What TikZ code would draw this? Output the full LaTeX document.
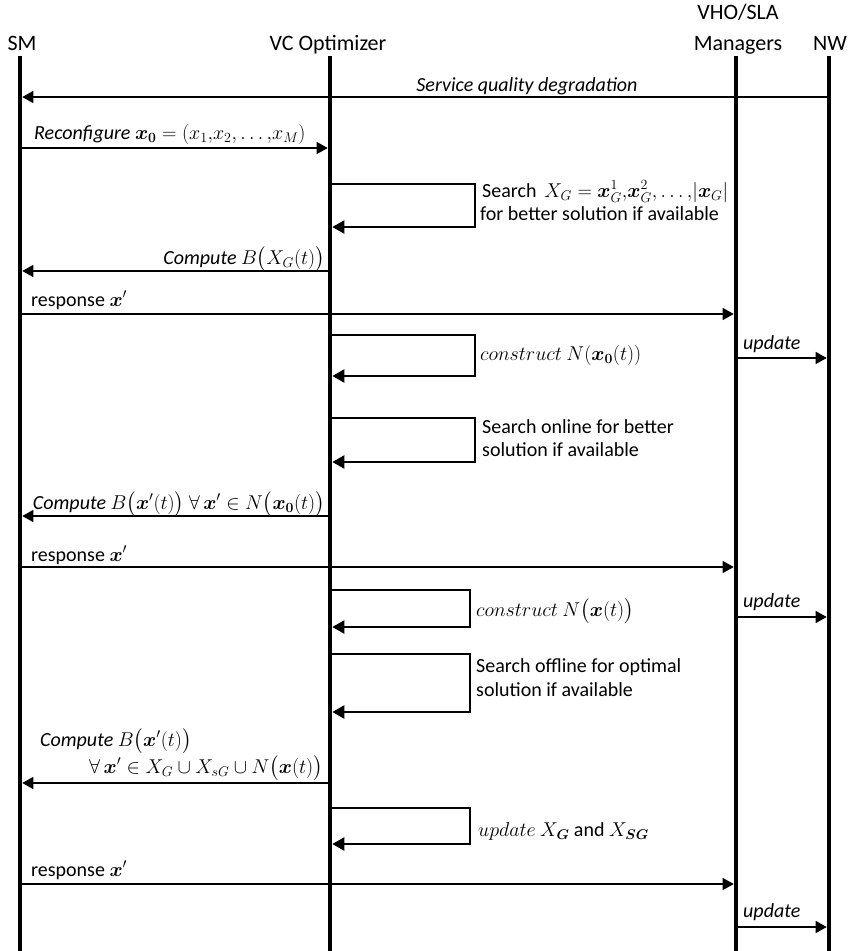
\RequirePackage{fix-cm}
\documentclass[tikz,border=0pt]{standalone}
\usepackage{amsmath}
\usepackage{bm}
\usepackage{fontspec}
\setmainfont{Carlito}
\usetikzlibrary{arrows.meta}

% one horizontal row of anchor points, one on each lifeline
\newcommand\seqrow[2]{%
  \coordinate (#1-sm) at (20,#2);
  \coordinate (#1-vc) at (330,#2);
  \coordinate (#1-vh) at (736,#2);
  \coordinate (#1-nw) at (829,#2);}

\tikzset{
  lifeline/.style={line width=4.6pt},
  msg/.style={line width=1.3pt, -{Triangle[length=11pt,width=12pt]}, shorten >=2.3pt},
  selfmsg/.style={line width=2.2pt, -{Triangle[length=12pt,width=13pt]}, shorten >=2.3pt},
  head/.style={font=\fontsize{22}{26}\selectfont, inner sep=0pt},
  lbl/.style={font=\fontsize{20}{24}\selectfont, inner sep=0pt},
}

\begin{document}
\begin{tikzpicture}[x=1pt,y=-1pt]
\useasboundingbox (0,0) rectangle (847,951);

% participants
\node[head, anchor=base] (sm) at (22,50) {SM};
\node[head, anchor=base] (vc) at (328,50) {VC Optimizer};
\node[head, anchor=base] (vhtop) at (738,19) {VHO/SLA};
\node[head, anchor=base] (vh) at (738,50) {Managers};
\node[head, anchor=base] (nw) at (830,50) {NW};

\seqrow{top}{56}
\seqrow{bot}{951}

% message rows
\seqrow{r1}{97}
\seqrow{r2}{148}
\seqrow{r3a}{184}
\seqrow{r3b}{227}
\seqrow{r4}{271}
\seqrow{r5}{314}
\seqrow{r6a}{335}
\seqrow{r6b}{376}
\seqrow{r7}{358}
\seqrow{r8a}{418}
\seqrow{r8b}{462}
\seqrow{r9}{516}
\seqrow{r10}{567}
\seqrow{r11a}{590}
\seqrow{r11b}{627}
\seqrow{r12}{617}
\seqrow{r13a}{654}
\seqrow{r13b}{712}
\seqrow{r14}{783}
\seqrow{r15a}{808}
\seqrow{r15b}{844}
\seqrow{r16}{884}
\seqrow{r17}{927}

% right corners of the self messages
\coordinate (r3c) at (475,184);
\coordinate (r6c) at (475,335);
\coordinate (r8c) at (475,418);
\coordinate (r11c) at (470,590);
\coordinate (r13c) at (470,654);
\coordinate (r15c) at (470,808);

% messages
\draw[msg] (r1-nw) -- (r1-sm);
\draw[msg] (r2-sm) -- (r2-vc);
\draw[selfmsg] (r3a-vc) -- (r3c) |- (r3b-vc);
\draw[msg] (r4-vc) -- (r4-sm);
\draw[msg] (r5-sm) -- (r5-vh);
\draw[selfmsg] (r6a-vc) -- (r6c) |- (r6b-vc);
\draw[msg] (r7-vh) -- (r7-nw);
\draw[selfmsg] (r8a-vc) -- (r8c) |- (r8b-vc);
\draw[msg] (r9-vc) -- (r9-sm);
\draw[msg] (r10-sm) -- (r10-vh);
\draw[selfmsg] (r11a-vc) -- (r11c) |- (r11b-vc);
\draw[msg] (r12-vh) -- (r12-nw);
\draw[selfmsg] (r13a-vc) -- (r13c) |- (r13b-vc);
\draw[msg] (r14-vc) -- (r14-sm);
\draw[selfmsg] (r15a-vc) -- (r15c) |- (r15b-vc);
\draw[msg] (r16-sm) -- (r16-vh);
\draw[msg] (r17-vh) -- (r17-nw);

% lifelines
\draw[lifeline] (top-sm) -- (bot-sm);
\draw[lifeline] (top-vc) -- (bot-vc);
\draw[lifeline] (top-vh) -- (bot-vh);
\draw[lifeline] (top-nw) -- (bot-nw);

% labels
\node[lbl, anchor=base] (l1) at (527,91) {\itshape Service quality degradation};
\node[lbl, anchor=base west] (l2) at (34,139) {\textit{Reconfigure} $\bm{x}_{\bm{0}} = (x_1{,}x_2{,}\ldots{,}x_M)$};
\node[lbl, anchor=base west] (l3a) at (482,197) {Search\ \,$X_G = \bm{x}_G^1{,}\bm{x}_G^2{,}\ldots{,}|\bm{x}_G|$};
\node[lbl, anchor=base west] (l3b) at (480,220) {for better solution if available};
\node[lbl, anchor=base east] (l4) at (325,264) {\textit{Compute} $B\bigl(X_G(t)\bigr)$};
\node[lbl, anchor=base west] (l5) at (31,306) {response $\bm{x}'$};
\node[lbl, anchor=base west] (l6) at (480,360) {$construct\ N(\bm{x}_{\bm{0}}(t))$};
\node[lbl, anchor=base west] (l7) at (743,349) {\itshape update};
\node[lbl, anchor=base west] (l8a) at (482,433) {Search online for better};
\node[lbl, anchor=base west] (l8b) at (482,456) {solution if available};
\node[lbl, anchor=base east] (l9) at (325,509) {\textit{Compute} $B\bigl(\bm{x}'(t)\bigr)\ \forall\, \bm{x}' \in N\bigl(\bm{x}_{\bm{0}}(t)\bigr)$};
\node[lbl, anchor=base west] (l10) at (31,561) {response $\bm{x}'$};
\node[lbl, anchor=base west] (l11) at (476,616) {$construct\ N\bigl(\bm{x}(t)\bigr)$};
\node[lbl, anchor=base west] (l12) at (743,607) {\itshape update};
\node[lbl, anchor=base west] (l13a) at (476,672) {Search offline for optimal};
\node[lbl, anchor=base west] (l13b) at (476,696) {solution if available};
\node[lbl, anchor=base west] (l14a) at (40,746) {\textit{Compute} $B\bigl(\bm{x}'(t)\bigr)$};
\node[lbl, anchor=base east] (l14b) at (323,773) {$\forall\, \bm{x}' \in X_G \cup X_{sG} \cup N\bigl(\bm{x}(t)\bigr)$};
\node[lbl, anchor=base west] (l15) at (478,836) {$update\ X_{\bm{G}}$ and $X_{\bm{SG}}$};
\node[lbl, anchor=base west] (l16) at (31,876) {response $\bm{x}'$};
\node[lbl, anchor=base west] (l17) at (743,917) {\itshape update};
\end{tikzpicture}
\end{document}
